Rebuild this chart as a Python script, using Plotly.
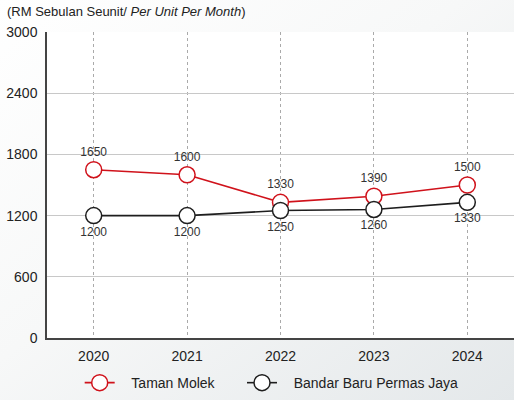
import base64
import plotly.graph_objects as go

years = ["2020", "2021", "2022", "2023", "2024"]
taman_molek = [1650, 1600, 1330, 1390, 1500]
permas_jaya = [1200, 1200, 1250, 1260, 1330]
y_ticks = [0, 600, 1200, 1800, 2400, 3000]

RED = "#d0121b"
BLACK = "#1e1e1e"
FONT = "Liberation Sans, Arial, sans-serif"
PAD = "\u00a0\u00a0\u00a0"

svg = ('<svg xmlns="http://www.w3.org/2000/svg" width="514" height="400">'
       '<defs><linearGradient id="g" x1="0" y1="0" x2="1" y2="1">'
       '<stop offset="0" stop-color="#ffffff"/><stop offset="0.45" stop-color="#f7f8f8"/>'
       '<stop offset="1" stop-color="#e4e8ea"/></linearGradient></defs>'
       '<rect width="514" height="400" fill="url(#g)"/></svg>')
bg_uri = "data:image/svg+xml;base64," + base64.b64encode(svg.encode()).decode()

fig = go.Figure()
fig.add_trace(go.Scatter(
    x=years, y=taman_molek, name=PAD + "Taman Molek", mode="lines+markers+text",
    line=dict(color=RED, width=1.6), legend="legend",
    marker=dict(symbol="circle", size=16, color="white", line=dict(color=RED, width=1.5)),
    text=[str(v) for v in taman_molek], textposition="top center",
    textfont=dict(size=12, color="#333", family=FONT),
))
fig.add_trace(go.Scatter(
    x=years, y=permas_jaya, name=PAD + "Bandar Baru Permas Jaya", mode="lines+markers+text",
    line=dict(color=BLACK, width=1.6), legend="legend2",
    marker=dict(symbol="circle", size=16, color="white", line=dict(color=BLACK, width=1.5)),
    text=[str(v) for v in permas_jaya], textposition="bottom center",
    textfont=dict(size=12, color="#333", family=FONT),
))

leg_common = dict(orientation="h", y=-0.095, yanchor="top", xanchor="left",
                  font=dict(size=14, color="#222"), bgcolor="rgba(0,0,0,0)")

fig.update_layout(
    width=514, height=400,
    margin=dict(l=47, r=0, t=32, b=62),
    paper_bgcolor="#f4f5f6", plot_bgcolor="white",
    font=dict(family=FONT, size=14, color="#222"),
    showlegend=True,
    legend=dict(x=0.07, **leg_common),
    legend2=dict(x=0.4176, **leg_common),
    images=[dict(source=bg_uri, xref="paper", yref="paper", x=-47/467, y=1 + 32/306,
                 sizex=514/467, sizey=400/306, xanchor="left", yanchor="top",
                 sizing="stretch", layer="below")],
    annotations=[dict(
        text="(RM Sebulan Seunit/ <i>Per Unit Per Month</i>)", xref="paper", yref="paper",
        x=-42/467, y=1, yanchor="bottom", xanchor="left", yshift=11, showarrow=False,
        font=dict(size=13, color="#222"),
    )],
    shapes=[dict(type="rect", xref="paper", yref="paper", x0=0, x1=1, y0=0, y1=1,
                 fillcolor="white", line=dict(width=0), layer="below")],
)
fig.update_xaxes(
    type="category", range=[-0.5, 4.5], showgrid=True, griddash="3px,3px",
    gridcolor="#aaaaaa", gridwidth=1, showline=True, linecolor="#444", linewidth=1.5,
    ticks="", tickfont=dict(size=14), ticklabelstandoff=4,
)
fig.update_yaxes(
    range=[0, 3000], tickvals=y_ticks, showgrid=True, gridcolor="#c8c8c8", gridwidth=1,
    showline=True, linecolor="#444", linewidth=1.5, ticks="", tickfont=dict(size=14),
    zeroline=False, ticklabelstandoff=5,
)

fig.write_html("out.html", config={"displayModeBar": False},
               post_script="document.body.style.margin='0';")
